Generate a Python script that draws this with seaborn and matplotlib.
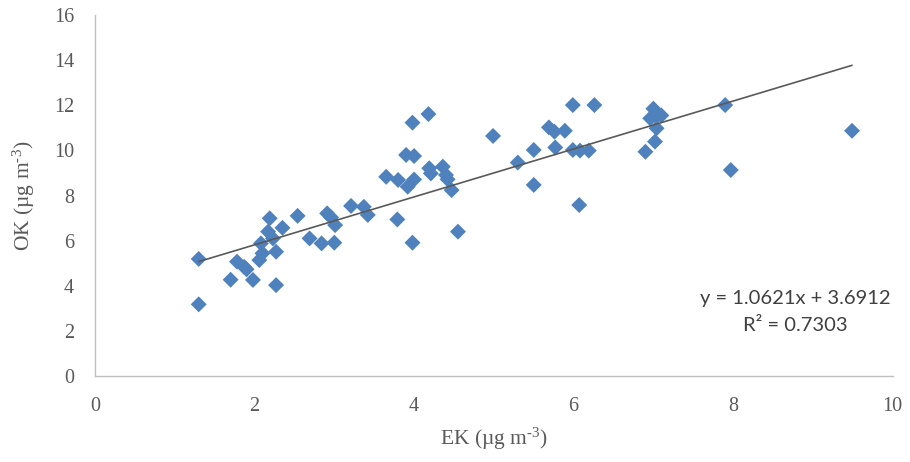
import matplotlib
matplotlib.use("Agg")
import matplotlib.pyplot as plt
import seaborn as sns
import numpy as np
import pandas as pd

# EK vs OK concentrations (µg m-3)
ek = [1.30, 1.30, 1.70, 1.78, 1.87, 1.90, 1.98, 2.06, 2.08, 2.10,
      2.17, 2.19, 2.23, 2.27, 2.27, 2.35, 2.54, 2.69, 2.84, 2.91,
      2.96, 3.00, 3.01, 3.21, 3.37, 3.42, 3.65, 3.79, 3.80, 3.90,
      3.92, 3.98, 3.98, 4.00, 4.00, 4.18, 4.19, 4.21, 4.36, 4.40,
      4.42, 4.47, 4.55, 4.99, 5.30, 5.50, 5.50, 5.69, 5.76, 5.77,
      5.89, 5.99, 5.99, 6.07, 6.08, 6.19, 6.26, 6.90, 6.96, 7.00,
      7.04, 7.04, 7.02, 7.10, 7.90, 7.97, 9.49]
ok = [5.19, 3.18, 4.27, 5.07, 4.84, 4.73, 4.26, 5.14, 5.88, 5.44,
      6.40, 6.99, 6.10, 5.51, 4.03, 6.57, 7.10, 6.10, 5.88, 7.21,
      7.03, 5.91, 6.69, 7.54, 7.50, 7.14, 8.83, 6.94, 8.69, 9.80,
      8.39, 11.23, 5.91, 8.71, 9.75, 11.61, 9.21, 8.98, 9.28, 8.91,
      8.72, 8.24, 6.40, 10.64, 9.46, 10.02, 8.47, 11.02, 10.83, 10.13,
      10.87, 12.01, 10.02, 7.58, 9.99, 9.99, 12.01, 9.94, 11.42, 11.85,
      11.50, 10.98, 10.39, 11.55, 12.01, 9.13, 10.87]

# Linear trend reported for the series
slope = 1.0621
intercept = 3.6912
r_squared = 0.7303

x_ticks = [0, 2, 4, 6, 8, 10]
y_ticks = [0, 2, 4, 6, 8, 10, 12, 14, 16]

sns.set_theme(style="white")
plt.rcParams["font.family"] = ["Liberation Serif", "DejaVu Serif"]
plt.rcParams["mathtext.fontset"] = "custom"
plt.rcParams["mathtext.rm"] = "Liberation Serif"
plt.rcParams["mathtext.it"] = "Liberation Serif"

df = pd.DataFrame({"EK": ek, "OK": ok})

fig = plt.figure(figsize=(9.10, 4.62), dpi=100)
ax = fig.add_axes([0.1044, 0.186, 0.8766, 0.7815])

sns.scatterplot(data=df, x="EK", y="OK", ax=ax, marker="D", s=66,
                color="#4F81BD", edgecolor="none", linewidth=0, zorder=3)

xl = np.array([min(ek), max(ek)])
trend = pd.DataFrame({"EK": xl, "OK": slope * xl + intercept})
sns.lineplot(data=trend, x="EK", y="OK", ax=ax, color="#595959",
             linewidth=1.2, zorder=4)

ax.set_xlim(0, 10)
ax.set_ylim(0, 16)
ax.set_xticks(x_ticks)
ax.set_yticks(y_ticks)
ax.set_xticklabels([str(t) for t in x_ticks])
ax.set_yticklabels([str(t) for t in y_ticks])
ax.tick_params(axis="both", length=0, labelsize=14.5, labelcolor="#595959")
ax.tick_params(axis="x", pad=15)
ax.tick_params(axis="y", pad=15)

for side in ("top", "right"):
    ax.spines[side].set_visible(False)
for side in ("left", "bottom"):
    ax.spines[side].set_color("#BFBFBF")
    ax.spines[side].set_linewidth(1.0)

ax.set_xlabel(r"EK (µg m$^{\text{-}3}$)", fontsize=15.5, color="#595959", labelpad=7)
ax.set_ylabel(r"OK (µg m$^{\text{-}3}$)", fontsize=15.5, color="#595959", labelpad=12)

eq = f"y = {slope:.4f}x + {intercept:.4f}\nR² = {r_squared:.4f}"
ax.text(8.78, 2.84, eq, ha="center", va="center", fontsize=14.5,
        family=["Lato", "DejaVu Sans"], color="#404040", linespacing=1.65)

fig.savefig("out.png", dpi=100)
